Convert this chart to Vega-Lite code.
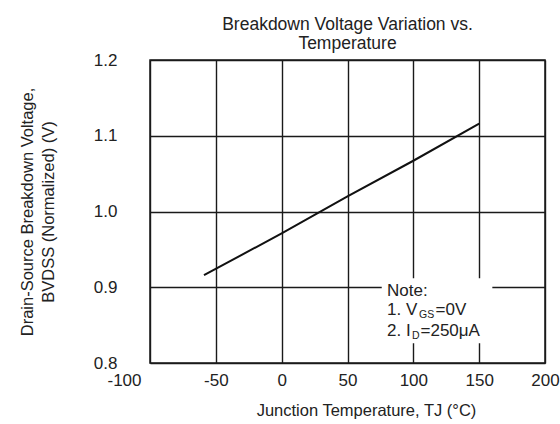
{
  "$schema": "https://vega.github.io/schema/vega-lite/v6.json",
  "autosize": "none",
  "width": 395,
  "height": 303,
  "padding": {"left": 150, "top": 60, "right": 15, "bottom": 61},
  "background": "white",
  "config": {
    "font": "Liberation Sans",
    "view": {"stroke": "#1a1a1a", "strokeWidth": 1.5},
    "axis": {
      "domain": false,
      "ticks": false,
      "grid": true,
      "gridColor": "#1a1a1a",
      "gridOpacity": 1,
      "gridWidth": 1.4,
      "labelFont": "Liberation Sans",
      "labelFontSize": 17,
      "labelColor": "#222",
      "labelExpr": "replace(datum.label, '−', '-')",
      "titleFont": "Liberation Sans",
      "titleFontSize": 16.5,
      "titleFontWeight": "normal",
      "titleColor": "#222"
    }
  },
  "title": {
    "text": ["Breakdown Voltage Variation vs.", "Temperature"],
    "font": "Liberation Sans",
    "fontSize": 17.5,
    "fontWeight": "normal",
    "color": "#222",
    "lineHeight": 19,
    "anchor": "middle",
    "offset": -1
  },
  "layer": [
    {
      "data": {"values": [
        {"t": -59, "bv": 0.916},
        {"t": 0, "bv": 0.971},
        {"t": 50, "bv": 1.020},
        {"t": 100, "bv": 1.067},
        {"t": 150, "bv": 1.116}
      ]},
      "mark": {"type": "line", "color": "#111", "strokeWidth": 2},
      "encoding": {
        "x": {
          "field": "t", "type": "quantitative",
          "scale": {"domain": [-100, 200], "nice": false},
          "axis": {
            "values": [-100, -50, 0, 50, 100, 150, 200],
            "labelFlush": false,
            "labelPadding": 9,
            "labelOffset": {"expr": "datum.value == -100 ? -26 : 0"},
            "title": "Junction Temperature, TJ (°C)",
            "titlePadding": 14,
            "titleX": 216
          }
        },
        "y": {
          "field": "bv", "type": "quantitative",
          "scale": {"domain": [0.8, 1.2], "nice": false, "zero": false},
          "axis": {
            "values": [0.8, 0.9, 1.0, 1.1, 1.2],
            "format": ".1f",
            "labelPadding": 33,
            "title": ["Drain-Source Breakdown Voltage,", "BVDSS (Normalized) (V)"],
            "titlePadding": 37,
            "titleLineHeight": 21
          }
        }
      }
    },
    {
      "data": {"values": [{"x1": 76, "x2": 160, "y1": 0.826, "y2": 0.912}]},
      "mark": {"type": "rect", "fill": "white", "stroke": null},
      "encoding": {
        "x": {"field": "x1", "type": "quantitative"},
        "x2": {"field": "x2"},
        "y": {"field": "y1", "type": "quantitative"},
        "y2": {"field": "y2"}
      }
    },
    {
      "data": {"values": [
        {"x": 80, "y": 0.889, "s": "Note:"},
        {"x": 80, "y": 0.863, "s": "1. V"},
        {"x": 80, "y": 0.836, "s": "2. I"}
      ]},
      "mark": {"type": "text", "align": "left", "baseline": "alphabetic", "fontSize": 17, "font": "Liberation Sans", "color": "#222"},
      "encoding": {
        "x": {"field": "x", "type": "quantitative"},
        "y": {"field": "y", "type": "quantitative"},
        "text": {"field": "s"}
      }
    },
    {
      "data": {"values": [{"x": 80, "y": 0.863, "s": "GS"}]},
      "mark": {"type": "text", "align": "left", "baseline": "alphabetic", "fontSize": 10.5, "font": "Liberation Sans", "color": "#222", "dx": 32, "dy": 3},
      "encoding": {
        "x": {"field": "x", "type": "quantitative"},
        "y": {"field": "y", "type": "quantitative"},
        "text": {"field": "s"}
      }
    },
    {
      "data": {"values": [{"x": 80, "y": 0.863, "s": "=0V"}]},
      "mark": {"type": "text", "align": "left", "baseline": "alphabetic", "fontSize": 17, "font": "Liberation Sans", "color": "#222", "dx": 48.5},
      "encoding": {
        "x": {"field": "x", "type": "quantitative"},
        "y": {"field": "y", "type": "quantitative"},
        "text": {"field": "s"}
      }
    },
    {
      "data": {"values": [{"x": 80, "y": 0.836, "s": "D"}]},
      "mark": {"type": "text", "align": "left", "baseline": "alphabetic", "fontSize": 10.5, "font": "Liberation Sans", "color": "#222", "dx": 25, "dy": 3},
      "encoding": {
        "x": {"field": "x", "type": "quantitative"},
        "y": {"field": "y", "type": "quantitative"},
        "text": {"field": "s"}
      }
    },
    {
      "data": {"values": [{"x": 80, "y": 0.836, "s": "=250μA"}]},
      "mark": {"type": "text", "align": "left", "baseline": "alphabetic", "fontSize": 17, "font": "Liberation Sans", "color": "#222", "dx": 33.5},
      "encoding": {
        "x": {"field": "x", "type": "quantitative"},
        "y": {"field": "y", "type": "quantitative"},
        "text": {"field": "s"}
      }
    }
  ]
}
